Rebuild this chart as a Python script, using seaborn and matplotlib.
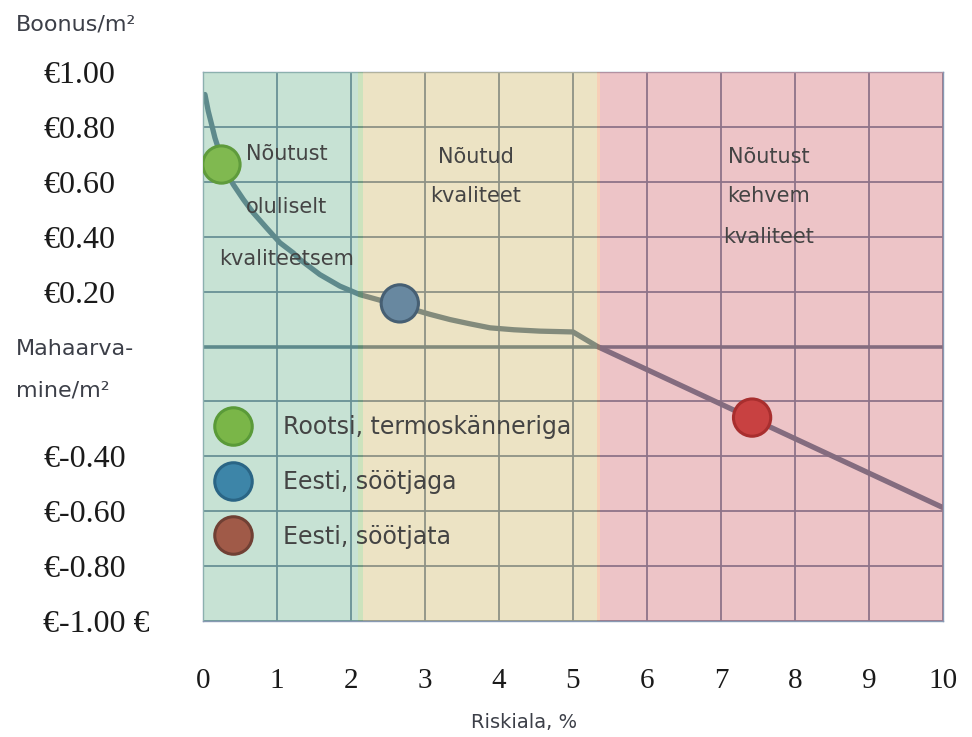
import numpy as np
import pandas as pd
import matplotlib
matplotlib.use('agg')
import matplotlib.pyplot as plt
from matplotlib.lines import Line2D
import seaborn as sns

sns.set_theme(style="white")
plt.rcParams['font.family'] = ['DejaVu Sans']

# bonus / deduction curve
risk_x = [0.027, 0.072, 0.117, 0.162, 0.21, 0.266, 0.33, 0.41, 0.545, 0.68, 0.86,
          1.04, 1.22, 1.31, 1.58, 1.85, 2.12, 2.4, 2.75, 3.07, 3.34, 3.6, 3.88,
          4.2, 4.55, 5.0, 5.33, 10.0]
bonus_y = [0.918, 0.857, 0.809, 0.760, 0.72, 0.667, 0.628, 0.59, 0.536, 0.487, 0.432,
           0.378, 0.341, 0.317, 0.262, 0.220, 0.189, 0.168, 0.142, 0.117, 0.098, 0.083, 0.068,
           0.061, 0.056, 0.053, 0.0, -0.587]

# the three marked cases
point_labels = ["Rootsi, termoskänneriga", "Eesti, söötjaga", "Eesti, söötjata"]
point_x = [0.25, 2.66, 7.42]
point_y = [0.663, 0.157, -0.259]
point_fill = ["#80b950", "#6888a0", "#c84141"]
point_edge = ["#5f9b3c", "#465f73", "#a82e2e"]
legend_fill = ["#7ab648", "#3d85a8", "#a05a48"]
legend_edge = ["#5a9a38", "#2a6585", "#704034"]

# background zones (x from, x to, colour)
zone_start = [0.0, 2.1, 2.16, 5.32, 5.36]
zone_end = [2.1, 2.16, 5.32, 5.36, 10.0]
zone_colors = ["#91c7ab", "#9bc97d", "#dbc98b", "#f0a070", "#dd8b91"]

zone_text = [["Nõutust", "oluliselt", "kvaliteetsem"],
             ["Nõutud", "kvaliteet"],
             ["Nõutust", "kehvem", "kvaliteet"]]
zone_text_x = [1.13, 3.69, 7.64]
zone_text_y = [[0.70, 0.51, 0.32], [0.69, 0.55], [0.69, 0.547, 0.40]]

x_ticks = list(range(0, 11))
y_ticks = [1.0, 0.8, 0.6, 0.4, 0.2, 0.0, -0.2, -0.4, -0.6, -0.8, -1.0]
y_tick_labels = ["€1.00", "€0.80", "€0.60", "€0.40", "€0.20", "", "",
                 "€-0.40", "€-0.60", "€-0.80", "€-1.00 €"]

line_color = "#2b4d6d"
grid_color = "#3f5a80"
text_color = "#444444"

curve = pd.DataFrame({"risk": risk_x, "bonus": bonus_y})
points = pd.DataFrame({"risk": point_x, "bonus": point_y, "case": point_labels})

fig = plt.figure(figsize=(9.72, 7.37), dpi=100)
ax = fig.add_axes([0.2088, 0.1574, 0.7614, 0.7449])

ax.set_axisbelow(True)
ax.grid(True, color=grid_color, lw=1.3)

ax.axhline(0, color=line_color, lw=2.6, zorder=2)
sns.lineplot(data=curve, x="risk", y="bonus", sort=False, estimator=None,
             color=line_color, lw=3.8, ax=ax, zorder=2)

# zone colours lie over grid and curve, like a tinted overlay
for x0, x1, c in zip(zone_start, zone_end, zone_colors):
    ax.axvspan(x0, x1, color=c, alpha=0.5, lw=0, zorder=3)

sns.scatterplot(data=points, x="risk", y="bonus", hue="case", palette=point_fill,
                s=720, edgecolor=point_edge, linewidth=2.2, legend=False, ax=ax, zorder=4)

for lines, tx, tys in zip(zone_text, zone_text_x, zone_text_y):
    for s, ty in zip(lines, tys):
        ax.text(tx, ty, s, ha="center", va="center", fontsize=15, color=text_color, zorder=5)

handles = [Line2D([], [], ls="", marker="o", markersize=27, markerfacecolor=f,
                  markeredgecolor=e, markeredgewidth=2.2)
           for f, e in zip(legend_fill, legend_edge)]
leg = ax.legend(handles, point_labels, loc="upper left", bbox_to_anchor=(0.015, 0.375),
                frameon=False, fontsize=17, handlelength=1.6, handletextpad=1.3,
                labelspacing=1.3, borderpad=0, borderaxespad=0)
for t in leg.get_texts():
    t.set_color(text_color)
leg.set_zorder(6)

ax.set_xlim(0, 10)
ax.set_ylim(-1, 1)
ax.set_xlabel("")
ax.set_ylabel("")
ax.set_xticks(x_ticks)
ax.set_yticks(y_ticks)
ax.set_yticklabels(y_tick_labels)
ax.set_xticklabels([str(v) for v in x_ticks])
for lab in ax.get_xticklabels() + ax.get_yticklabels():
    lab.set_fontfamily("Liberation Serif")
    lab.set_color("#1a1a1a")
for lab in ax.get_yticklabels():
    lab.set_ha("left")
ax.tick_params(axis="x", length=0, pad=34, labelsize=21)
ax.tick_params(axis="y", length=0, pad=115, labelsize=23)

for sp in ax.spines.values():
    sp.set_color("#8899b3")
    sp.set_linewidth(1.0)

fig.text(16 / 972, 1 - 24 / 737, "Boonus/m²", ha="left", va="center", fontsize=16, color="#3c3f48")
fig.text(16 / 972, 1 - 349 / 737, "Mahaarva-", ha="left", va="center", fontsize=16, color="#3c3f48")
fig.text(16 / 972, 1 - 390 / 737, "mine/m²", ha="left", va="center", fontsize=16, color="#3c3f48")
fig.text(524 / 972, 1 - 722 / 737, "Riskiala, %", ha="center", va="center", fontsize=14, color="#3c3f48")

fig.savefig("out.png", dpi=100)
